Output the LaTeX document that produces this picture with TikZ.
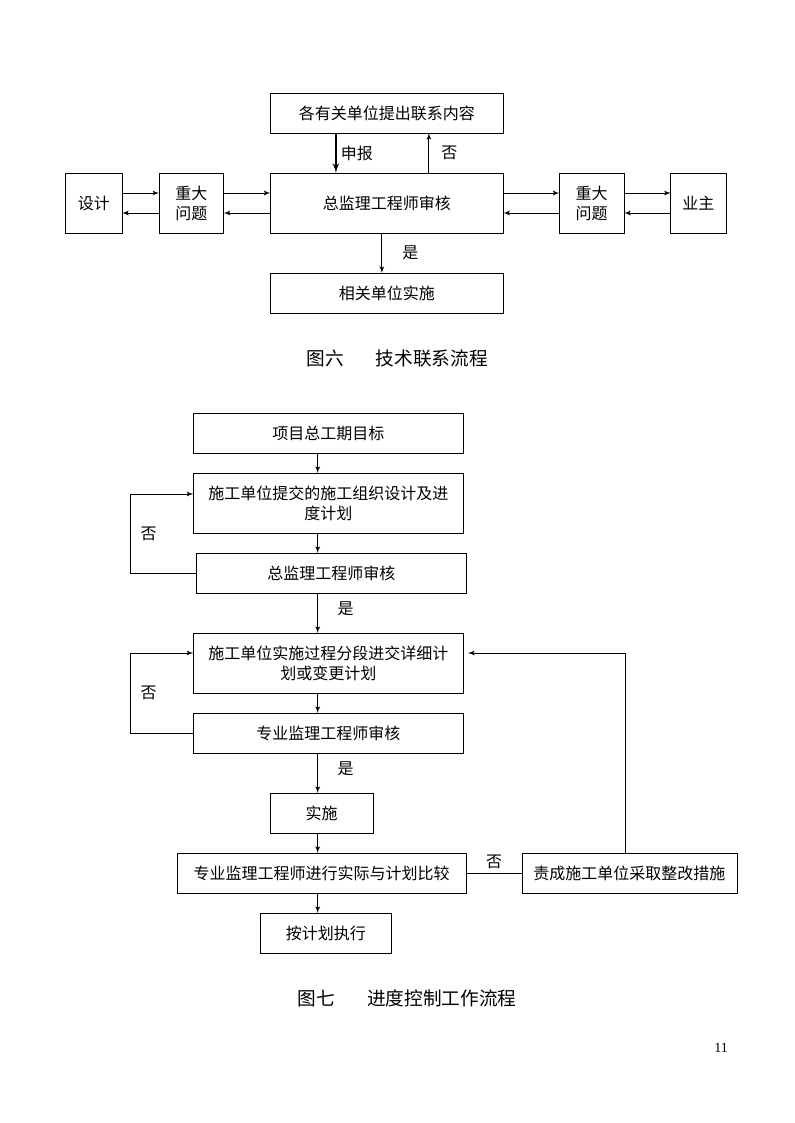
\documentclass[tikz,border=0pt]{standalone}
\usepackage{fontspec}
\setmainfont{Noto Sans CJK SC}
\newfontfamily\pagenumfont{Liberation Serif}
\usepackage{tikz}
\usetikzlibrary{positioning}
\usetikzlibrary{shapes,arrows}
\tikzstyle{block} = [rectangle, draw, text centered, align=center, 
minimum height=30pt, inner sep=2pt, outer sep=0pt, font=\fontsize{12}{15}\selectfont]
\tikzstyle{tall} = [minimum height=45pt]
\tikzstyle{line} = [draw, -latex']
\tikzstyle{tag} = [font=\fontsize{12}{15}\selectfont, inner sep=3pt]
\tikzstyle{caption} = [font=\fontsize{14}{16}\selectfont]

\begin{document}
\begin{tikzpicture}[x=0.75pt, y=-0.75pt, line width=0.7pt]
  \useasboundingbox (0,0) rectangle (794,1123);

          % Place nodes (fig. 6)
    \node [block, tall, minimum width=174.75pt] (review) at (386.9,203) {总监理工程师审核};
    \node [block, minimum width=174.75pt, above=30pt of review] (notice) {各有关单位提出联系内容};
    \node [block, minimum width=174.75pt, below=30pt of review] (act) {相关单位实施};
    \node [block, tall, minimum width=48.5pt, left=35pt of review] (issueL) {重大\\问题};
    \node [block, tall, minimum width=42.4pt, left=27.75pt of issueL] (design) {设计};
    \node [block, tall, minimum width=48.5pt, right=42pt of review] (issueR) {重大\\问题};
    \node [block, tall, minimum width=41.5pt, right=35pt of issueR] (owner) {业主};
    \node [caption] (cap6) at (397,358) {图六\hspace{24pt}技术联系流程};
    % edges
         \path [line, line width=1.5pt] ([xshift=-38.25pt]notice.south) -- node[tag, right]{申报} ([xshift=-38.25pt]review.north);
         \path [line] ([xshift=31.5pt]review.north) -- node[tag, right, xshift=6pt]{否} ([xshift=31.5pt]notice.south);
         \path [line] ([xshift=-3.75pt]review.south) -- node[tag, right, xshift=12pt]{是} ([xshift=-3.75pt]act.north);
         \foreach \a/\b in {design/issueL, issueL/review, review/issueR, issueR/owner} {
           \path [line] ([yshift=7.5pt]\a.east) -- ([yshift=7.5pt]\b.west);
           \path [line] ([yshift=-7.5pt]\b.west) -- ([yshift=-7.5pt]\a.east);
         }

          % Place nodes (fig. 7)
    \node [block, minimum width=202.5pt] (goal) at (328.3,433) {项目总工期目标};
    \node [block, tall, minimum width=202.5pt, below=15pt of goal] (plan) {施工单位提交的施工组织设计及进\\度计划};
    \node [block, minimum width=203pt, below=15pt of plan, xshift=2.25pt] (chief) {总监理工程师审核};
    \node [block, tall, minimum width=202.5pt, below=30pt of chief, xshift=-2.25pt] (stage) {施工单位实施过程分段进交详细计\\划或变更计划};
    \node [block, minimum width=202.5pt, below=15pt of stage] (spec) {专业监理工程师审核};
    \node [block, minimum width=77.6pt, below=30pt of spec, xshift=-4.95pt] (impl) {实施};
    \node [block, minimum width=217pt, below=15pt of impl] (compare) {专业监理工程师进行实际与计划比较};
    \node [block, minimum width=97.8pt, below=15pt of compare, xshift=3.2pt] (follow) {按计划执行};
    \node [block, minimum width=161.25pt, right=41.7pt of compare] (fix) {责成施工单位采取整改措施};
    \node [caption] (cap7) at (407,998) {图七\hspace{24pt}进度控制工作流程};
    \node [font=\pagenumfont\fontsize{10.5}{12}\selectfont] (page) at (721,1048) {11};
    \coordinate (spine) at (317.7,0);
    \coordinate (loopx) at (130.7,0);
    % edges
         \foreach \a/\b in {goal/plan, plan/chief, stage/spec, impl/compare, compare/follow}
           \path [line] (\a.south -| spine) -- (\b.north -| spine);
         \path [line] (chief.south -| spine) -- node[tag, right, xshift=11.5pt, pos=0.4]{是} (stage.north -| spine);
         \path [line] (spec.south -| spine) -- node[tag, right, xshift=11.5pt, pos=0.4]{是} (impl.north -| spine);
         \path [line] (chief.west) -- (chief.west -| loopx) |- node[tag, right, pos=0.25, xshift=4pt]{否} ([yshift=6.75pt]plan.west);
         \path [line] (spec.west) -- (spec.west -| loopx) |- node[tag, right, pos=0.25, xshift=4pt]{否} ([yshift=7.5pt]stage.west);
         \path [line, shorten >=3.5pt] ([xshift=-3pt]fix.north) |- ([yshift=7.5pt]stage.east);
         \path [draw] (compare) -- node[tag, above]{否} (fix);
  \end{tikzpicture}
\end{document}
